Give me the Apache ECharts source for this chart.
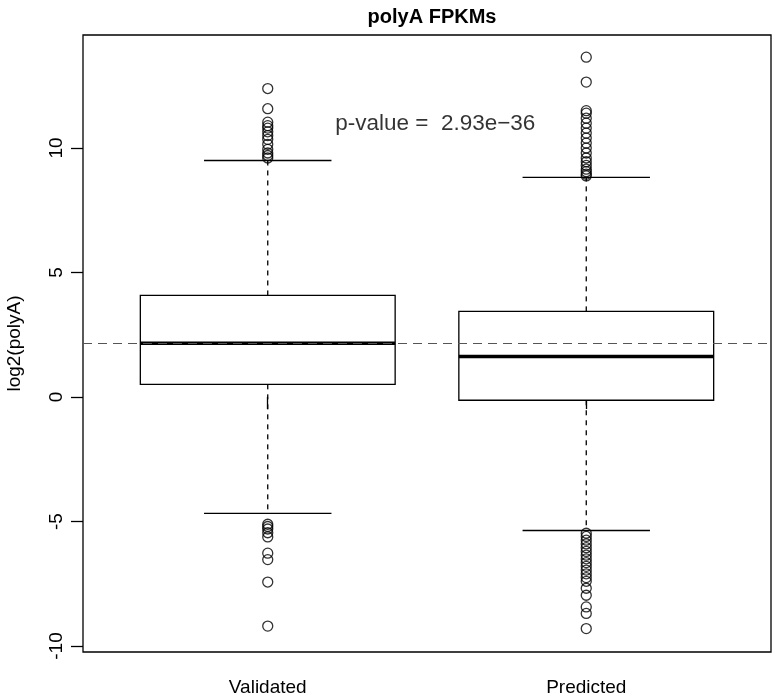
<!DOCTYPE html>
<html><head><meta charset="utf-8">
<script src="https://cdn.jsdelivr.net/npm/echarts@6/dist/echarts.min.js"></script>
<style>html,body{margin:0;padding:0;background:#fff}#c{width:772px;height:695px}</style>
</head><body><div id="c"></div>
<script>
const categories = ['Validated', 'Predicted'];
// [lowerWhisker, Q1, median, Q3, upperWhisker]
const boxStats = [
  [-4.67, 0.51, 2.16, 4.08, 9.50],
  [-5.36, -0.13, 1.63, 3.44, 8.82]
];
const outliersValidated = [12.39, 11.58, 11.04, 10.9, 10.8, 10.65, 10.5, 10.35, 10.15, 9.95, 9.8, 9.7, 9.6,
  -5.11, -5.2, -5.3, -5.45, -5.62, -6.27, -6.53, -7.43, -9.2];
const outliersPredicted = [13.65, 12.65, 11.5, 11.4, 11.2, 11.0, 10.8, 10.6, 10.4, 10.2, 10.0, 9.8, 9.6, 9.45, 9.3, 9.15, 9.05, 8.95, 8.88,
  -5.47, -5.6, -5.75, -5.9, -6.05, -6.2, -6.35, -6.5, -6.65, -6.8, -6.95, -7.1, -7.25, -7.4, -7.68, -7.96, -8.43, -8.69, -9.3];
const refLine = 2.16;
const pValueText = 'p-value =  2.93e\u221236';
const yTicks = [-10, -5, 0, 5, 10];
const xTicks = [1, 2];

const FONT = '"Liberation Sans", Arial, Helvetica, sans-serif';
const chart = echarts.init(document.getElementById('c'));

const boxData = boxStats.map((s, i) => [i + 1].concat(s));
const outData = [];
outliersValidated.forEach(v => outData.push([1, v]));
outliersPredicted.forEach(v => outData.push([2, v]));

function renderBox(params, api) {
  const x = api.value(0);
  const lo = api.value(1), q1 = api.value(2), md = api.value(3), q3 = api.value(4), hi = api.value(5);
  const half = 0.4, sHalf = 0.2;
  const pL = api.coord([x - half, q3]), pR = api.coord([x + half, q1]);
  const c = api.coord([x, md]);
  const sl = api.coord([x - sHalf, hi])[0], sr = api.coord([x + sHalf, hi])[0];
  const yHi = api.coord([x, hi])[1], yLo = api.coord([x, lo])[1];
  const yQ1 = api.coord([x, q1])[1], yQ3 = api.coord([x, q3])[1];
  const solid = {stroke: '#000', lineWidth: 1.3, fill: null};
  const dashed = {stroke: '#000', lineWidth: 1.3, lineDash: [5, 5]};
  return {type: 'group', children: [
    {type: 'line', shape: {x1: c[0], y1: yQ3, x2: c[0], y2: yHi}, style: dashed},
    {type: 'line', shape: {x1: c[0], y1: yQ1, x2: c[0], y2: yLo}, style: dashed},
    {type: 'line', shape: {x1: sl, y1: yHi, x2: sr, y2: yHi}, style: solid},
    {type: 'line', shape: {x1: sl, y1: yLo, x2: sr, y2: yLo}, style: solid},
    {type: 'rect', shape: {x: pL[0], y: pL[1], width: pR[0] - pL[0], height: pR[1] - pL[1]}, style: {stroke: '#000', lineWidth: 1.3, fill: '#fff'}},
    {type: 'line', shape: {x1: pL[0], y1: c[1], x2: pR[0], y2: c[1]}, style: {stroke: '#000', lineWidth: 3.5}}
  ]};
}

chart.setOption({
  animation: false,
  backgroundColor: '#fff',
  title: {text: 'polyA FPKMs', left: 427, top: 2, textAlign: 'center',
    textStyle: {fontFamily: FONT, fontWeight: 'bold', fontSize: 20, color: '#000'}},
  grid: {left: 83, right: 1, top: 35, bottom: 43, outerBoundsMode: 'none', containLabel: false,
    show: true, borderColor: '#000', borderWidth: 1.3, backgroundColor: 'transparent'},
  xAxis: {type: 'value', min: 0.42, max: 2.58,
    axisLine: {show: false}, splitLine: {show: false},
    axisTick: {show: true, customValues: xTicks, length: 12, lineStyle: {color: '#000', width: 1.3}},
    axisLabel: {customValues: xTicks, margin: 26, fontFamily: FONT, fontSize: 19, color: '#000',
      formatter: v => categories[Math.round(v) - 1] || ''}},
  yAxis: {type: 'value', min: -10.24, max: 14.54,
    name: 'log2(polyA)', nameLocation: 'middle', nameGap: 59, nameRotate: 90,
    nameTextStyle: {fontFamily: FONT, fontSize: 19, color: '#000'},
    axisLine: {show: false}, splitLine: {show: false},
    axisTick: {show: true, customValues: yTicks, length: 12, lineStyle: {color: '#000', width: 1.3}},
    axisLabel: {customValues: yTicks, rotate: 90, margin: 17, fontFamily: FONT, fontSize: 19, color: '#000'}},
  series: [
    {type: 'custom', renderItem: renderBox, data: boxData, z: 3,
      markLine: {silent: true, symbol: 'none', label: {show: false},
        lineStyle: {color: '#555', type: [9, 6], width: 1.2}, data: [{yAxis: refLine}]}},
    {type: 'scatter', data: outData, symbol: 'circle', symbolSize: 10, z: 4,
      itemStyle: {color: 'transparent', borderColor: '#000', borderWidth: 1.3}},
    {type: 'scatter', data: [[1.526, 10.98]], symbolSize: 0, silent: true,
      label: {show: true, position: 'inside', formatter: pValueText, fontFamily: FONT, fontSize: 22.5, color: '#000'}}
  ]
});
</script></body></html>
